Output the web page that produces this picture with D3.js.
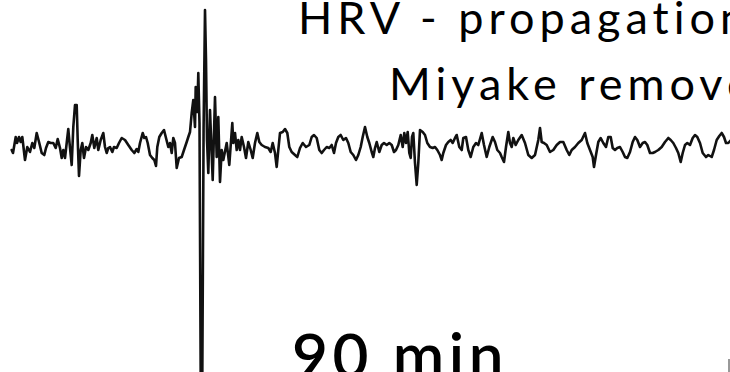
<!DOCTYPE html>
<html>
<head>
<meta charset="utf-8">
<script src="https://cdn.jsdelivr.net/npm/d3@7"></script>
<style>
  html, body { margin: 0; padding: 0; background: #fff; overflow: hidden; }
  svg { display: block; }
</style>
</head>
<body>
<svg id="chart" width="730" height="372"></svg>
<script>
// Title lines and the time-scale label
const titleLines = ["HRV - propagation", "Miyake removed"];
const scaleLabel = ["90 min"];

// Seismogram trace: [time, amplitude] samples
const trace = [
  [11.7,-2],[13,-5],[15.7,11],[17,5],[19,11],[20.7,6],[22.3,11],[25,-12],[27.3,1],[30,-4],
  [32.3,5],[34.3,0],[36.7,15],[39.3,5],[41.7,-5],[44.3,-7],[46,0],[48.3,6],[50.7,5],[53.3,5],
  [55.7,0],[57.7,9],[60,0],[61.7,-10],[63.3,-2],[65,-10],[66.7,5],[68.3,19],[70,0],[71.7,-17],
  [73.3,21],[75,43],[76.7,43],[77.7,8],[79,-28],[80.7,-2],[82.3,5],[84,-10],[86,1],[88.3,-2],
  [90.7,5],[92.3,13],[94.3,0],[96.7,10],[98.3,-2],[100.7,8],[103.3,15],[105,1],[106.7,-5],[108.3,0],
  [110,1],[112.3,-4],[114,1],[116.7,0],[119,5],[121.7,10],[125,8],[128.3,3],[131.7,-2],[134.3,-5],
  [136.7,-1],[138.3,-4],[140,5],[142.7,15],[144.3,10],[146,11],[147.7,5],[150,-7],[152.3,-10],[154.3,-12],
  [156,-18],[157.3,1],[159.3,11],[161.7,15],[164,18],[166,10],[168.3,1],[170,5],[171.7,-5],[173.3,10],
  [175,5],[176.7,-20],[179,-10],[181.7,-9],[184,-2],[186.7,6],[188.3,11],[190,16],[191.7,35],[193.3,48],
  [195,21],[195.7,61],[197.3,36],[198.3,75],[199.5,25],[200.8,-250],[202.2,-250],[203.6,20],[205,138],[206,88],
  [207,8],[208.3,-25],[210,38],[212.7,-32],[215,51],[216.7,-9],[218.3,31],[220,-34],[221.7,-2],[223.3,-12],
  [226.7,5],[229.3,-17],[232.3,25],[233.3,5],[235,15],[236.7,-2],[238.3,8],[240,-2],[241.7,11],[244,1],
  [246,-10],[248.3,6],[250.7,-2],[252.7,-10],[255,5],[257.3,15],[259.3,6],[261.7,3],[265,1],[268.3,0],
  [270.7,-4],[272.7,5],[275,-5],[276.7,-19],[278.3,-2],[280,15],[282.7,16],[285,19],[287.3,15],[289.3,1],
  [291.7,-4],[295,-7],[297.3,-9],[300,0],[302.7,5],[306,1],[309.3,3],[311.7,11],[314,13],[316.7,10],
  [319.3,-2],[321.7,-5],[324,-2],[326.7,1],[329.3,0],[331.7,3],[334,-5],[336,5],[338.3,11],[340.7,13],
  [343.3,8],[346,10],[348.3,5],[350.7,-4],[353.3,-7],[356,-12],[358.3,-7],[360.7,1],[362.7,11],[365,21],
  [367.3,11],[369.3,5],[371.7,-4],[373.3,-9],[375,0],[376.7,6],[379.3,-4],[381.7,3],[384,5],[386.7,3],
  [389.3,5],[391.7,3],[394,-4],[396,-2],[398.3,3],[400.7,13],[402.7,1],[404.3,15],[406,5],[407.7,16],
  [409.3,-5],[410.7,-10],[412,11],[413.3,15],[415,-15],[416.7,-37],[418.3,-15],[420,18],[422.7,16],[425,13],
  [427.3,5],[430,1],[432.7,0],[435,1],[437.3,-2],[440,-7],[441.7,-12],[443.3,-5],[446,3],[448.3,6],
  [450.7,8],[452.7,5],[455,10],[456.7,13],[459.3,1],[461.7,-2],[463.3,10],[466,11],[468.3,-2],[470.7,-9],
  [473.3,1],[476,5],[478.3,3],[481.7,15],[484,3],[486.7,-9],[489.3,1],[492.7,11],[495,6],[497.3,-2],
  [500,-5],[501.7,-9],[504,-14],[506,1],[508.3,16],[510,5],[511.7,1],[513.3,10],[515.7,3],[518.3,8],
  [521.7,13],[525,5],[528.3,-7],[531.7,-10],[535,-7],[538.3,8],[540,20],[541.7,6],[544,5],[546.7,3],
  [550,-4],[553.3,-2],[556.7,3],[560,6],[563.3,6],[566.7,-2],[569.3,-7],[571.7,-2],[575,1],[578.3,5],
  [581.7,8],[585,15],[587.3,5],[590,-2],[592.7,-9],[594,-19],[596,-7],[598.3,6],[600.7,10],[603.3,5],
  [606,1],[608.3,11],[610.7,11],[612.7,0],[615,-2],[617.3,0],[620,1],[622.7,-4],[625,-9],[627.3,-10],
  [630,-4],[632.7,6],[635,11],[637.3,8],[640,1],[642.7,5],[645,6],[647.3,3],[650,-5],[652.7,-5],
  [655,-4],[658.3,-2],[661.7,1],[665,6],[668.3,10],[670.7,8],[673.3,5],[676,0],[678.3,-5],[680.7,-14],
  [682.7,-5],[685,3],[687.3,5],[690,3],[692.7,10],[695,13],[697.3,11],[700,5],[702.7,-5],[706,-9],
  [708.3,-7],[711.7,-9],[714,-2],[716.7,8],[719.3,12],[721.7,15],[724,11],[726,5],[728.3,5],[731,8]
];

// Time-scale bar end marker (time value)
const scaleBarEnd = [729];

const width = 730, height = 372;
const svg = d3.select("#chart");

const x = d3.scaleLinear().domain([0, 730]).range([0, width]);
const y = d3.scaleLinear().domain([-224, 148]).range([height, 0]);

// Title (runs off the right edge)
const fontStack = "'Gill Sans', 'Gill Sans MT', Lato, 'Open Sans', sans-serif";
svg.append("text")
  .attr("x", 298).attr("y", 34)
  .attr("font-family", fontStack).attr("font-size", 45)
  .attr("letter-spacing", 5)
  .attr("fill", "#000")
  .text(titleLines[0]);
svg.append("text")
  .attr("x", 389).attr("y", 100)
  .attr("font-family", fontStack).attr("font-size", 45)
  .attr("letter-spacing", 5)
  .attr("fill", "#000")
  .text(titleLines[1]);

// Trace
const line = d3.line()
  .x(d => x(d[0]))
  .y(d => y(d[1]))
  .curve(d3.curveLinear);

svg.append("path")
  .datum(trace)
  .attr("d", line)
  .attr("fill", "none")
  .attr("stroke", "#111")
  .attr("stroke-width", 2.6)
  .attr("stroke-linejoin", "round")
  .attr("stroke-linecap", "round");

// Scale label (runs off the bottom edge)
svg.append("text")
  .attr("x", 292).attr("y", 378)
  .attr("font-family", fontStack).attr("font-size", 62).attr("font-weight", 600)
  .attr("letter-spacing", 4.5)
  .attr("fill", "#000")
  .text(scaleLabel[0]);

// Scale bar end tick
svg.selectAll("line.scale-tick")
  .data(scaleBarEnd)
  .join("line")
  .attr("class", "scale-tick")
  .attr("x1", d => x(d)).attr("x2", d => x(d))
  .attr("y1", 359).attr("y2", height)
  .attr("stroke", "#333").attr("stroke-width", 1);
</script>
</body>
</html>
